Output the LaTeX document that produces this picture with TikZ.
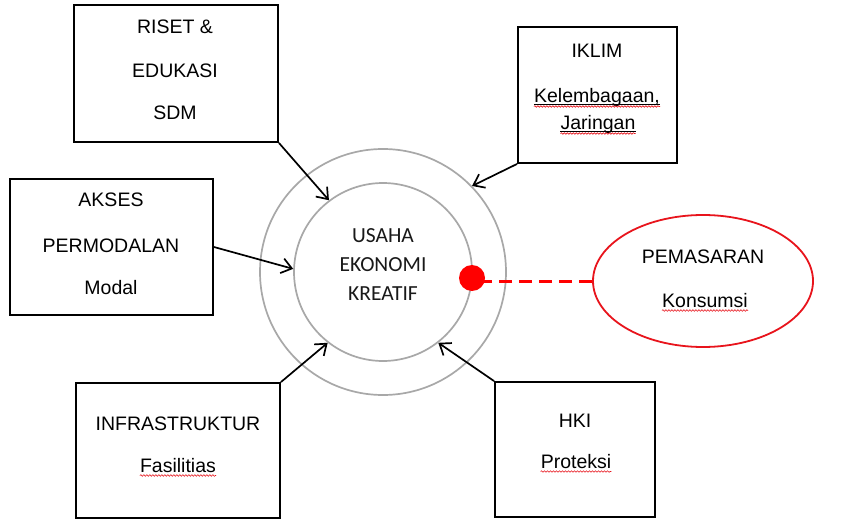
\documentclass[tikz,border=0pt]{standalone}
\usepackage{fontspec}
\setmainfont{Liberation Sans}
\newfontfamily\calibfont{Carlito}
\usetikzlibrary{arrows.meta,decorations.pathmorphing,calc,shapes.geometric}
\definecolor{pred}{HTML}{E8141C}
\definecolor{cgray}{HTML}{A8A8A8}
\begin{document}
\begin{tikzpicture}[x=1pt,y=-1pt,
  boxnode/.style={draw=black,line width=1.9pt,inner sep=0pt},
  txt/.style={anchor=base,inner sep=0pt,font=\fontsize{19.5}{22}\selectfont,text=black},
  ctxt/.style={anchor=base,inner sep=0pt,font=\calibfont\fontsize{21.5}{24}\selectfont,text=black!90},
  arr/.style={line width=1.7pt,-{Straight Barb[length=10pt,width=15pt]}},
  ring/.style={circle,draw=cgray,line width=1.7pt,inner sep=0pt},
  spell/.style={draw=pred,line width=0.6pt,decorate,decoration={snake,amplitude=0.8pt,segment length=3pt}},
  uline/.style={draw=black,line width=0.8pt}
]
\useasboundingbox (0,0) rectangle (852,532);
\fill[white] (0,0) rectangle (852,532);

% circles
\node[ring,minimum size=246pt] (outer) at (383,272) {};
\node[ring,minimum size=178pt] (inner) at (383,272) {};
\node[ctxt] (c1) at (383,242) {USAHA};
\node[ctxt] (c2) at (383,271) {EKONOMI};
\node[ctxt] (c3) at (383,300) {KREATIF};

% boxes
\node[boxnode,minimum width=204pt,minimum height=137pt] (riset) at (176,73.5) {};
\node[txt] (r1) at (175,34) {RISET \&};
\node[txt] (r2) at (175,78) {EDUKASI};
\node[txt] (r3) at (175,120) {SDM};

\node[boxnode,minimum width=203pt,minimum height=136pt] (akses) at (111.5,247) {};
\node[txt] (a1) at (111,207) {AKSES};
\node[txt] (a2) at (111,252) {PERMODALAN};
\node[txt] (a3) at (111,294) {Modal};

\node[boxnode,minimum width=159pt,minimum height=136pt] (iklim) at (597.5,95) {};
\node[txt] (i1) at (597,58) {IKLIM};
\node[txt] (i2) at (597,103) {Kelembagaan,};
\node[txt] (i3) at (598,130) {Jaringan};

\node[boxnode,minimum width=204pt,minimum height=135pt] (infra) at (178,450.5) {};
\node[txt] (f1) at (178,430) {INFRASTRUKTUR};
\node[txt] (f2) at (178,472) {Fasilitias};

\node[boxnode,minimum width=160pt,minimum height=135pt] (hki) at (575,449.5) {};
\node[txt] (h1) at (575,427) {HKI};
\node[txt] (h2) at (576,468) {Proteksi};

% ellipse
\node[ellipse,draw=pred,line width=1.8pt,minimum width=220pt,minimum height=132pt,inner sep=0pt] (pem) at (703,281) {};
\node[txt] (p1) at (703,263) {PEMASARAN};
\node[txt] (p2) at (705,307) {Konsumsi};

% arrows
\draw[arr] (riset.south east) -- (inner.127.8);
\draw[arr] (iklim.south west) -- (outer.44.3);
\draw[arr] (akses.east) -- (inner.178.7);
\draw[arr] (infra.north east) -- (inner.232.1);
\draw[arr] (hki.north west) -- (inner.308.9);

% red dot and dashed link
\coordinate (dstart) at (474,281);
\draw[red,line width=3pt,dash pattern=on 13pt off 7pt] (pem.west) -- (dstart);
\node[circle,fill=red,inner sep=0pt,minimum size=26pt] (dot) at (472,278) {};

% underlines
\draw[uline] ($(i2.base west)+(0,1.8)$) -- ($(i2.base east)+(0,1.8)$);
\draw[uline] ($(i3.base west)+(0,1.8)$) -- ($(i3.base east)+(0,1.8)$);
\draw[spell] ($(i2.base west)+(0,3.5)$) -- ($(i2.base east)+(0,3.5)$);
\draw[spell] ($(i3.base west)+(0,3.5)$) -- ($(i3.base east)+(0,3.5)$);
\draw[spell] ($(p2.base west)+(0,3.5)$) -- ($(p2.base east)+(0,3.5)$);
\draw[spell] ($(f2.base west)+(0,3.5)$) -- ($(f2.base east)+(0,3.5)$);
\draw[spell] ($(h2.base west)+(0,3.5)$) -- ($(h2.base east)+(0,3.5)$);
\end{tikzpicture}
\end{document}
